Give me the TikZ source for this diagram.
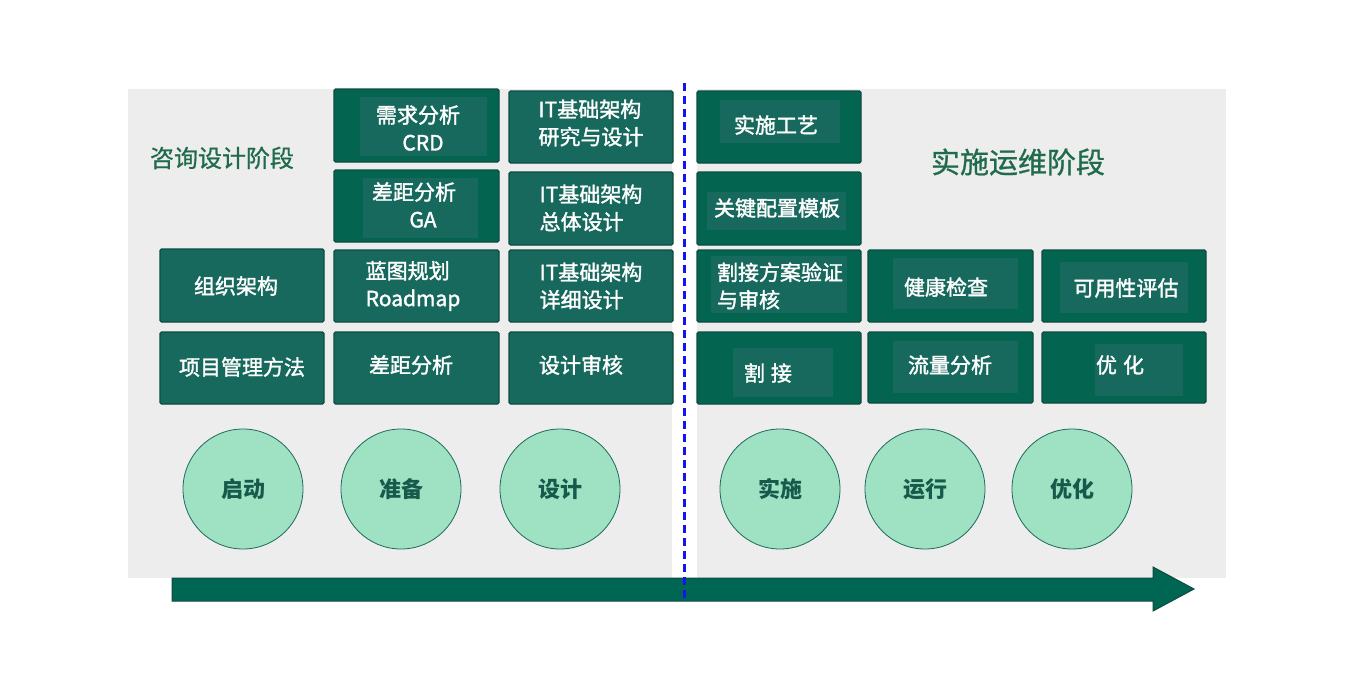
\documentclass[tikz,border=0pt]{standalone}
\usepackage{fontspec}
\setmainfont{Noto Sans CJK SC}
\newfontfamily\boxfont{Noto Sans CJK SC}[FakeBold=1.6]
\newfontfamily\stagefont{Noto Sans CJK SC}[FakeBold=0.8]
\usetikzlibrary{fit}
\definecolor{panel}{HTML}{EDEDED}
\definecolor{boxfill}{HTML}{16695C}
\definecolor{boxdark}{HTML}{03654F}
\definecolor{hlfill}{HTML}{17695D}
\definecolor{boxedge}{HTML}{0E4B41}
\definecolor{circfill}{HTML}{9EE2C3}
\definecolor{circedge}{HTML}{1E6A5A}
\definecolor{circtext}{HTML}{17594B}
\definecolor{phasetext}{HTML}{1F6B4B}
\definecolor{arrowfill}{HTML}{006654}
\definecolor{dashblue}{HTML}{1414F0}
\begin{document}
\begin{tikzpicture}[x=1pt,y=-1pt,
  box/.style={draw=boxedge, fill=boxfill, line width=1.2pt, rounded corners=1.5pt, inner sep=0pt},
  boxd/.style={box, fill=boxdark},
  hl/.style={fill=hlfill},
  btxt/.style={text=white, font=\boxfont\fontsize{21}{27.5}\selectfont, inner sep=0pt},
  phase/.style={circle, minimum size=120pt, inner sep=0pt, fill=circfill, draw=circedge, line width=0.8pt, text=circtext, font=\bfseries\fontsize{22}{26}\selectfont},
  stage/.style={text=phasetext, inner sep=0pt}]
\useasboundingbox[fill=white] (0,0) rectangle (1355,688);
% panels
\fill[panel] (128,89) rectangle (672,578);
\fill[panel] (697,89) rectangle (1226,578);
% stage titles
\node[stage, font=\stagefont\fontsize{24}{28}\selectfont] (s1) at (222,158) {咨询设计阶段};
\node[stage, font=\stagefont\fontsize{29}{33}\selectfont] (s2) at (1018,162) {实施运维阶段};
% column 1
\node[box, fit={(160,249) (324,322)}] (a3) {};
\node[btxt] (a3t) at (236,286) {组织架构};
\node[box, fit={(160,332) (324,404)}] (a4) {};
\node[btxt] (a4t) at (242,367) {项目管理方法};
% column 2
\node[boxd, fit={(334,89) (499,162)}] (b1) {};
\fill[hl] (360,97) rectangle (487,156);
\node[btxt, align=center] (b1t) at (418,128) {需求分析\\\hspace{10pt}CRD};
\node[boxd, fit={(334,170) (499,242)}] (b2) {};
\fill[hl] (363,178) rectangle (478,238);
\node[btxt, align=center] (b2t) at (414,205) {差距分析\\\hspace{18pt}GA};
\node[box, fit={(334,250) (499,322)}] (b3) {};
\node[btxt, align=left] (b3t) at (413,286) {蓝图规划\\Roadmap};
\node[box, fit={(334,332) (499,404)}] (b4) {};
\node[btxt] (b4t) at (411,365) {差距分析};
% column 3
\node[box, fit={(509,91) (673,163)}] (c1) {};
\node[btxt, align=left] (c1t) at (591,123) {IT基础架构\\研究与设计};
\node[box, fit={(509,172) (673,245)}] (c2) {};
\node[btxt, align=left] (c2t) at (591,208) {IT基础架构\\总体设计};
\node[box, fit={(509,250) (673,322)}] (c3) {};
\node[btxt, align=left] (c3t) at (591,286) {IT基础架构\\详细设计};
\node[box, fit={(509,332) (673,404)}] (c4) {};
\node[btxt] (c4t) at (581,365) {设计审核};
% column 4
\node[boxd, fit={(697,91) (861,163)}] (d1) {};
\fill[hl] (720,100) rectangle (840,143);
\node[btxt] (d1t) at (776,125) {实施工艺};
\node[boxd, fit={(697,172) (861,245)}] (d2) {};
\fill[hl] (707,192) rectangle (846,230);
\node[btxt] (d2t) at (777,208) {关键配置模板};
\node[boxd, fit={(697,250) (861,322)}] (d3) {};
\fill[hl] (711,256) rectangle (847,313);
\node[btxt, align=left] (d3t) at (780,286) {割接方案验证\\与审核};
\node[boxd, fit={(697,332) (861,404)}] (d4) {};
\fill[hl] (733,348) rectangle (833,397);
\node[btxt] (d4t) at (768,373) {割\hspace{6pt}接};
% column 5
\node[boxd, fit={(868,250) (1033,322)}] (e3) {};
\fill[hl] (893,258) rectangle (1018,309);
\node[btxt] (e3t) at (946,287) {健康检查};
\node[boxd, fit={(868,332) (1033,403)}] (e4) {};
\fill[hl] (893,341) rectangle (1018,393);
\node[btxt] (e4t) at (950,365) {流量分析};
% column 6
\node[boxd, fit={(1042,250) (1206,322)}] (f3) {};
\fill[hl] (1060,262) rectangle (1188,313);
\node[btxt] (f3t) at (1126,288) {可用性评估};
\node[boxd, fit={(1042,332) (1206,403)}] (f4) {};
\fill[hl] (1095,344) rectangle (1183,396);
\node[btxt] (f4t) at (1120,365) {优\hspace{6pt}化};
% phases
\node[phase] (p1) at (243,489) {启动};
\node[phase] (p2) at (401,489) {准备};
\node[phase] (p3) at (560,489) {设计};
\node[phase] (p4) at (780,489) {实施};
\node[phase] (p5) at (925,489) {运行};
\node[phase] (p6) at (1072,489) {优化};
% arrow
\draw[fill=arrowfill, draw=boxedge, line width=1pt, line join=miter]
  (172,578) -- (1153,578) -- (1153,567) -- (1194,589) -- (1153,611) -- (1153,601) -- (172,601) -- cycle;
% dashed divider
\coordinate (dtop) at (684,83);
\coordinate (dbot) at (684,601);
\draw[dashblue, line width=3pt, dash pattern=on 8pt off 5pt] (dtop) -- (dbot);
\end{tikzpicture}
\end{document}
